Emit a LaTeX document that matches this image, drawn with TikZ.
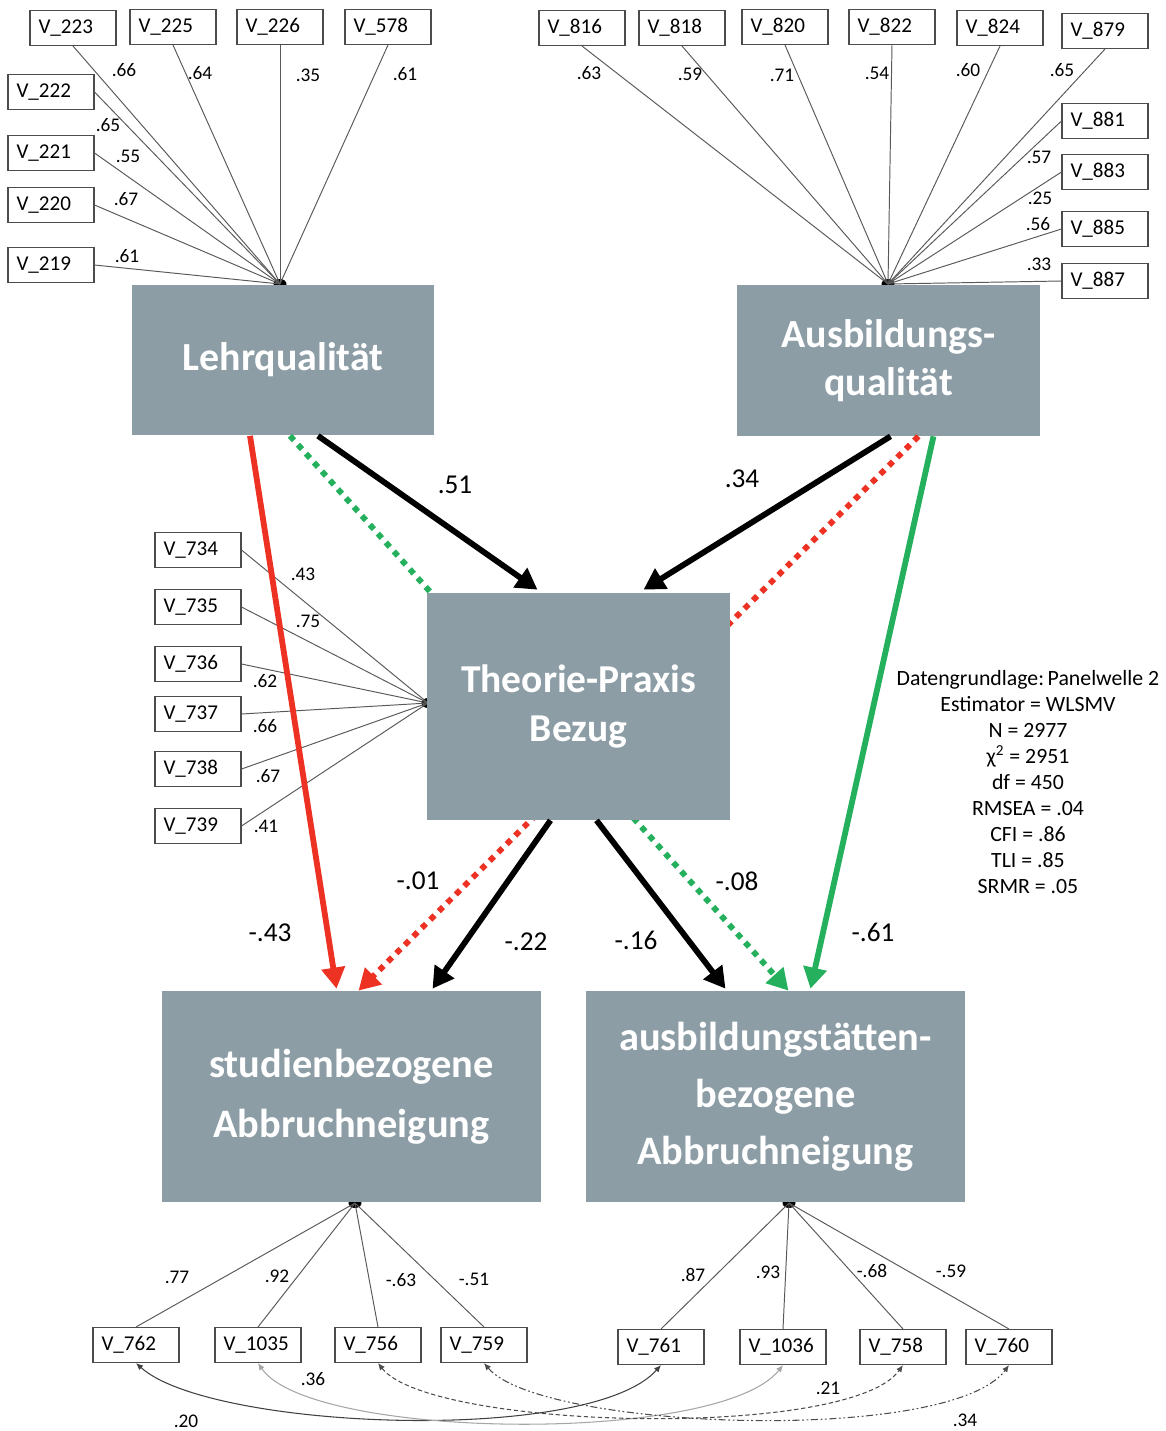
\documentclass[tikz,border=0pt]{standalone}
\usepackage{fontspec}
\setmainfont{Carlito}
\usetikzlibrary{arrows.meta,calc}
\definecolor{latentgray}{RGB}{140,157,166}
\definecolor{pathred}{RGB}{237,50,36}
\definecolor{pathgreen}{RGB}{36,176,92}
\tikzset{>=latex}
\tikzstyle{latent}=[rectangle,fill=latentgray,text=white,align=center,inner sep=0pt,font=\bfseries\fontsize{22.7}{27}\selectfont]
\tikzstyle{indicator}=[rectangle,draw=black!70,line width=0.6pt,minimum height=0.7cm,text width=1.38cm,inner xsep=0.17cm,inner ysep=0pt,align=left,font=\fontsize{12}{14}\selectfont]
\tikzstyle{junction}=[ellipse,fill=black,inner sep=0pt,minimum width=0.26cm,minimum height=0.2cm]
\tikzstyle{loading}=[draw=black!65,line width=0.55pt]
\tikzstyle{coef}=[inner sep=0pt,font=\fontsize{11}{13}\selectfont]
\tikzstyle{pathcoef}=[inner sep=0pt,font=\fontsize{15.5}{18}\selectfont]
\tikzstyle{effect}=[line width=3.3pt,-{Triangle[length=12pt,width=13pt]}]
\tikzstyle{indirect}=[line width=3.3pt,dash pattern=on 3.4pt off 3.4pt,-{Triangle[length=12pt,width=13pt]}]
\tikzstyle{resid}=[line width=0.6pt,{Latex[length=4pt,width=3.5pt]}-{Latex[length=4pt,width=3.5pt]}]
\usetikzlibrary{shapes.geometric}

\begin{document}
\begin{tikzpicture}[x=0.02cm,y=-0.02cm]
    \useasboundingbox (0,0) rectangle (1166,1431);

    % measurement points of the latent factors
    \node[junction] (dotL) at (280,284) {};
    \node[junction] (dotA) at (888,284) {};
    \node[junction] (dotS) at (355,1203) {};
    \node[junction] (dotB) at (789,1203) {};

    \foreach \n/\x/\y/\side/\w/\cx/\cy in {223/73/28/south/.66/124/70,225/173/27/south/.64/200/73,
        226/280/27/south/.35/308/75,578/388/27/south/.61/405/74,222/51/92/east/.65/108/125,
        221/51/153/east/.55/128/156,220/51/205/east/.67/126/199,219/51/265/east/.61/127/256} {
        \node[indicator] (v\n) at (\x,\y) {V\_\n};
        \draw[loading] (v\n.\side) -- (dotL.center);
        \node[coef] (c\n) at (\cx,\cy) {\w};
    };
    \foreach \n/\x/\y/\side/\w/\cx/\cy in {816/582/28/south/.63/589/73,818/682/28/south/.59/690/74,
        820/785/27/south/.71/782/75,822/892/27/south/.54/877/73,824/1000/28/south/.60/968/70,
        879/1105/31/south/.65/1062/70,881/1105/121/west/.57/1039/157,883/1105/172/west/.25/1040/198,
        885/1105/229/west/.56/1038/224,887/1105/281/west/.33/1039/264} {
        \node[indicator] (v\n) at (\x,\y) {V\_\n};
        \draw[loading] (v\n.\side) -- (dotA.center);
        \node[coef] (c\n) at (\cx,\cy) {\w};
    };
    \foreach \n/\x/\y/\w/\cx/\cy in {762/136/1345/.77/177/1277,1035/258/1345/.92/277/1276,
        756/378/1345/-.63/401/1280,759/484/1345/-.51/474/1279} {
        \node[indicator] (v\n) at (\x,\y) {V\_\n};
        \draw[loading] (v\n.north) -- (dotS.center);
        \node[coef] (c\n) at (\cx,\cy) {\w};
    };
    \foreach \n/\x/\y/\w/\cx/\cy in {761/661/1347/.87/693/1275,1036/783/1347/.93/768/1272,
        758/903/1347/-.68/872/1271,760/1009/1347/-.59/951/1271} {
        \node[indicator] (v\n) at (\x,\y) {V\_\n};
        \draw[loading] (v\n.north) -- (dotB.center);
        \node[coef] (c\n) at (\cx,\cy) {\w};
    };

    \node[latent,minimum width=6.04cm,minimum height=3.02cm] (lehr) at (283,360) {Lehrqualität};
    \node[latent,minimum width=6.06cm,minimum height=3.02cm,font=\bfseries\fontsize{22.7}{27.5}\selectfont] (ausb) at (888.5,360.5) {Ausbildungs-\\qualität};
    \node[latent,minimum width=7.58cm,minimum height=4.22cm,font=\bfseries\fontsize{23}{34}\selectfont] (stud) at (351.5,1096.5) {studienbezogene\\Abbruchneigung};
    \node[latent,minimum width=7.58cm,minimum height=4.22cm,font=\bfseries\fontsize{23}{32.3}\selectfont] (ort) at (775.5,1096.5) {ausbildungstätten-\\bezogene\\Abbruchneigung};

    % indirect paths, hidden behind the mediator
    \draw[indirect,pathgreen] ($(lehr.south)+(7,0)$) -- ($(ort.north)+(13,0)$);
    \draw[indirect,pathred] ($(ausb.south)+(30,0)$) -- ($(stud.north)+(7,0)$);

    \node[junction] (dotT) at (428,703) {};
    \foreach \n/\y/\w/\cx/\cy in {734/550/.43/303/574,735/607/.75/308/621,736/664/.62/265/681,
        737/714/.66/265/726,738/769/.67/268/776,739/826/.41/266/826} {
        \node[indicator] (v\n) at (198,\y) {V\_\n};
        \draw[loading] (v\n.east) -- (dotT.center);
        \node[coef] (c\n) at (\cx,\cy) {\w};
    };
    \node[latent,minimum width=6.06cm,minimum height=4.54cm,font=\bfseries\fontsize{22.5}{27.5}\selectfont] (tp) at (578.5,706.5) {Theorie-Praxis\\Bezug};

    \draw[effect] ($(lehr.south)+(35,0)$) -- ($(tp.north)+(-41,-3)$);
    \draw[effect] ($(ausb.south)+(2,0)$) -- ($(tp.north)+(65,-3)$);
    \draw[effect,pathred] ($(lehr.south)+(-33,0)$) -- ($(stud.north)+(-15,-2)$);
    \draw[effect,pathgreen] ($(ausb.south)+(45,0)$) -- ($(ort.north)+(35,-2)$);
    \draw[effect] ($(tp.south)+(-28,0)$) -- ($(stud.north)+(81,-2)$);
    \draw[effect] ($(tp.south)+(18,0)$) -- ($(ort.north)+(-50,-2)$);

    \node[pathcoef] (p1) at (455,485) {.51};
    \node[pathcoef] (p2) at (742,479) {.34};
    \node[pathcoef] (p3) at (270,933) {-.43};
    \node[pathcoef] (p4) at (873,932) {-.61};
    \node[pathcoef] (p5) at (418,881) {-.01};
    \node[pathcoef] (p6) at (737,881) {-.08};
    \node[pathcoef] (p7) at (526,942) {-.22};
    \node[pathcoef] (p8) at (636,940) {-.16};

    % residual correlations
    \draw[resid,black!75] (v762.south) .. controls (210,1430) and (590,1445) .. (v761.south);
    \draw[resid,black!35] (v1035.south) .. controls (310,1440) and (720,1445) .. (v1036.south);
    \draw[resid,black!70,dash pattern=on 2.5pt off 1.5pt] (v756.south) .. controls (430,1430) and (850,1440) .. (v758.south);
    \draw[resid,black!70,dash pattern=on 4pt off 1.5pt on 1pt off 1.5pt on 1pt off 1.5pt] (v759.south) .. controls (540,1430) and (950,1445) .. (v760.south);
    \node[coef] (r1) at (186,1421) {.20};
    \node[coef] (r2) at (313,1379) {.36};
    \node[coef] (r3) at (828,1388) {.21};
    \node[coef] (r4) at (965,1420) {.34};

    \node[align=center,inner sep=0pt,font=\fontsize{12.4}{14.8}\selectfont] (fit) at (1028,782)
        {Datengrundlage:\,Panelwelle 2\\Estimator = WLSMV\\N = 2977\\χ\textsuperscript{2} = 2951\\df = 450\\RMSEA = .04\\CFI = .86\\TLI = .85\\SRMR = .05};
\end{tikzpicture}
\end{document}
